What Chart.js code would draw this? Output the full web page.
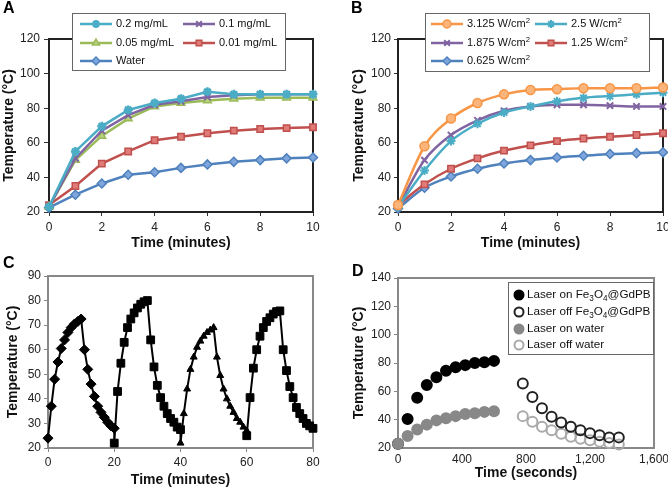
<!DOCTYPE html>
<html>
<head>
<meta charset="utf-8">
<script src="https://cdn.jsdelivr.net/npm/chart.js@4.4.1/dist/chart.umd.min.js"></script>
<style>
  html, body { margin: 0; padding: 0; background: #fff; width: 668px; height: 489px; overflow: hidden; }
  canvas { position: absolute; }
  .tag { position: absolute; font: bold 16px 'Liberation Sans', Arial, sans-serif; line-height: 16px; color: #000; z-index: 2; }
</style>
</head>
<body>
<canvas id="chartA" style="left:0;top:0" width="334" height="252"></canvas>
<canvas id="chartB" style="left:334px;top:0" width="334" height="252"></canvas>
<canvas id="chartC" style="left:0;top:250px" width="334" height="239"></canvas>
<canvas id="chartD" style="left:334px;top:250px" width="334" height="239"></canvas>
<div class="tag" style="left:3px;top:0">A</div>
<div class="tag" style="left:351px;top:0">B</div>
<div class="tag" style="left:3px;top:255px">C</div>
<div class="tag" style="left:352px;top:263px">D</div>
<script>
// ---- panel A: concentration series (minutes) ----
const minutes = [0, 1, 2, 3, 4, 5, 6, 7, 8, 9, 10];
const concLabels = ['0.2 mg/mL', '0.1 mg/mL', '0.05 mg/mL', '0.01 mg/mL', 'Water'];
const a02 = [23, 55, 69.5, 79, 83, 85.5, 89.5, 88, 88, 88, 88];
const a01 = [23, 51, 67, 76, 82, 84, 86.5, 87.5, 88, 88, 88];
const a005 = [23, 50, 64, 74, 81, 83, 84.5, 85.5, 86, 86, 86];
const a001 = [24, 35, 48, 55, 61.5, 63.5, 65.5, 67, 68, 68.5, 69];
const aWater = [22.5, 30, 36.5, 41.5, 43, 45.5, 47.5, 49, 50, 51, 51.5];

// ---- panel B: power density series ----
const powerLabels = ['3.125 W/cm^2', '2.5 W/cm^2', '1.875 W/cm^2', '1.25 W/cm^2', '0.625 W/cm^2'];
const b3125 = [24, 58, 74, 83, 88, 90.5, 91, 91.5, 91.5, 91.5, 92];
const b25 = [23, 44, 61, 71, 77.5, 81, 84, 86, 87, 88, 89];
const b1875 = [23, 50, 64.5, 73, 78.5, 81, 82, 82, 81.5, 81, 81];
const b125 = [24, 36, 45, 51, 55.5, 58.5, 61, 62.5, 63.5, 64.5, 65.5];
const b0625 = [22, 34, 40.5, 45, 48, 50, 51.5, 52.5, 53.5, 54, 54.5];

// ---- panel C: four on/off cycles, one reading per minute ----
const cycleMinutes = [0, 1, 2, 3, 4, 5, 6, 7, 8, 9, 10, 11, 12, 13, 14, 15, 16, 17, 18, 19, 20];
const cycleStart = [0, 20, 40, 60];
const cycle1 = [24, 37, 48, 55, 60.5, 64, 67, 69, 70.5, 71.5, 72.5, 60, 52, 46, 41, 37, 34.5, 32.5, 30.5, 29, 28];
const cycle2 = [22, 43, 54.5, 63, 69, 72.5, 75, 77, 78.5, 79.5, 80, 64, 53, 45.5, 40.5, 37, 34, 32, 30.5, 28.5, 27.5];
const cycle3 = [22, 34, 44, 52, 57, 61, 63.5, 65.5, 67, 68, 69, 57, 49.5, 44, 40, 37, 34.5, 32, 30.5, 28.5, 27];
const cycle4 = [25, 40.5, 52.5, 60, 65.5, 69, 71.5, 73, 74.5, 75.5, 75.8, 60, 51.5, 45, 40.5, 36.5, 34, 32, 30, 29, 28];

// ---- panel D: laser on / off (seconds) ----
const timeOn = [0, 60, 120, 180, 240, 300, 360, 420, 480, 540, 600];
const timeOff = [780, 840, 900, 960, 1020, 1080, 1140, 1200, 1260, 1320, 1380];
const onFe = [23, 40.5, 55.5, 64.5, 70, 74.5, 77, 78.5, 80, 80.5, 81.5];
const onWater = [23, 28.5, 33, 36.5, 39.5, 41, 42.5, 44, 44.5, 45.5, 46];
const offFe = [65.5, 56, 48, 42, 38, 35, 32.5, 30.5, 29, 27.5, 27.5];
const offWater = [42.5, 38.5, 35, 32.5, 30, 28, 26.5, 25.5, 24.5, 23.5, 22.5];
const laserLabels = ['Laser on Fe_3O_4@GdPB', 'Laser off Fe_3O_4@GdPB', 'Laser on water', 'Laser off water'];

const FONT = "'Liberation Sans', Arial, Helvetica, sans-serif";
Chart.defaults.font.family = FONT;
Chart.defaults.font.size = 12;
Chart.defaults.color = '#222';
Chart.defaults.animation = false;

// text with _x subscripts and ^x superscripts
function drawRich(ctx, str, x, y, size) {
  str.split(/([_^].)/).forEach(p => {
    if (!p) return;
    let t = p, fs = size, dy = 0;
    if (p[0] === '_') { t = p[1]; fs = size * 0.7; dy = size * 0.28; }
    else if (p[0] === '^') { t = p[1]; fs = size * 0.7; dy = -size * 0.3; }
    ctx.font = fs + 'px ' + FONT;
    ctx.fillText(t, x, y + dy);
    x += ctx.measureText(t).width;
  });
}

// box around the plot area, under the data
const framePlugin = {
  id: 'frame',
  beforeDatasetsDraw(chart, args, opts) {
    const a = chart.chartArea, ctx = chart.ctx;
    ctx.save();
    ctx.strokeStyle = opts.color || '#333';
    ctx.lineWidth = opts.width || 2;
    ctx.strokeRect(a.left, a.top, a.right - a.left, a.bottom - a.top);
    ctx.restore();
  }
};

// legend drawn as a framed box at a fixed place
const boxLegendPlugin = {
  id: 'boxLegend',
  afterDraw(chart, args, opts) {
    if (!opts.items) return;
    const ctx = chart.ctx;
    ctx.save();
    ctx.fillStyle = '#fff';
    ctx.fillRect(opts.x, opts.y, opts.w, opts.h);
    ctx.strokeStyle = opts.border;
    ctx.lineWidth = 1;
    ctx.strokeRect(opts.x + 0.5, opts.y + 0.5, opts.w, opts.h);
    opts.items.forEach(it => {
      const ds = chart.data.datasets[it.ds];
      let mx = it.x;
      if (opts.lineLen) {
        ctx.strokeStyle = ds.borderColor;
        ctx.lineWidth = ds.borderWidth;
        ctx.beginPath();
        ctx.moveTo(it.x, it.y);
        ctx.lineTo(it.x + opts.lineLen, it.y);
        ctx.stroke();
        mx = it.x + opts.lineLen / 2;
      }
      ctx.fillStyle = ds.pointBackgroundColor;
      ctx.strokeStyle = ds.pointBorderColor;
      ctx.lineWidth = ds.pointBorderWidth;
      Chart.helpers.drawPoint(ctx, { pointStyle: ds.pointStyle, rotation: 0, radius: ds.pointRadius - 0.5, borderWidth: ds.pointBorderWidth }, mx, it.y);
      ctx.fillStyle = '#111';
      ctx.textBaseline = 'middle';
      ctx.textAlign = 'left';
      const tx = (opts.lineLen ? it.x + opts.lineLen : mx + ds.pointRadius) + opts.gap;
      drawRich(ctx, ds.label, tx, it.y, opts.fontSize);
    });
    ctx.restore();
  }
};
Chart.register(framePlugin, boxLegendPlugin);

function axis(o) {
  return {
    type: 'linear', min: o.min, max: o.max,
    ticks: { stepSize: o.step, padding: o.pad, color: '#222', font: { size: 12 }, maxRotation: 0, autoSkip: false,
             callback: v => v.toLocaleString('en-US') },
    grid: { drawOnChartArea: false, drawTicks: o.tick > 0, tickLength: o.tick, color: o.color, lineWidth: 1 },
    border: { display: false },
    title: { display: true, text: o.title, color: '#111', font: { size: 14, weight: 'bold' }, padding: o.titlePad },
    afterFit: s => {
      if (s.isHorizontal()) s.height = o.size; else s.width = o.size;
      s.paddingLeft = s.paddingRight = s.paddingTop = s.paddingBottom = 0;
    }
  };
}

function series(label, data, color, style, fill, extra) {
  return Object.assign({
    label, data: data.map((y, i) => ({ x: minutes[i], y })),
    borderColor: color, borderWidth: 2.5, pointStyle: style, pointRadius: 4.5,
    pointBackgroundColor: fill, pointBorderColor: color, pointBorderWidth: 1.5, clip: false
  }, extra || {});
}

const baseOpts = (pad, legend, frame) => ({
  responsive: false,
  layout: { padding: pad, autoPadding: false },
  plugins: { legend: { display: false }, tooltip: { enabled: false }, frame, boxLegend: legend }
});

// ---- A ----
const optsA = baseOpts({ left: 0, top: 39, right: 21, bottom: 0 },
  { x: 72, y: 13, w: 213, h: 57, border: '#666', lineLen: 32, gap: 4, fontSize: 11,
    items: [{ ds: 0, x: 80, y: 24 }, { ds: 1, x: 183, y: 24 }, { ds: 2, x: 80, y: 43 }, { ds: 3, x: 183, y: 43 }, { ds: 4, x: 80, y: 61 }] },
  { color: '#222', width: 2 });
optsA.scales = {
  x: axis({ min: 0, max: 10, step: 2, pad: 4, tick: 4, color: '#333', title: 'Time (minutes)', titlePad: { top: 0, bottom: 0 }, size: 40 }),
  y: axis({ min: 20, max: 120, step: 20, pad: 4, tick: 5, color: '#333', title: 'Temperature (°C)', titlePad: { top: 1, bottom: 0 }, size: 49 })
};
new Chart(document.getElementById('chartA'), {
  type: 'line',
  data: { datasets: [
    series(concLabels[0], a02, '#4BACC6', 'star', '#4BACC6', { pointBorderWidth: 2.5 }),
    series(concLabels[1], a01, '#8064A2', 'crossRot', '#8064A2', { pointBorderWidth: 2 }),
    series(concLabels[2], a005, '#9BBB59', 'triangle', '#b6d27c'),
    series(concLabels[3], a001, '#C0504D', 'rect', '#e07b78'),
    series(concLabels[4], aWater, '#4F81BD', 'rectRot', '#7ea6dc')
  ] },
  options: optsA
});

// ---- B ----
const optsB = baseOpts({ left: 0, top: 39, right: 5, bottom: 0 },
  { x: 91, y: 13, w: 224, h: 58, border: '#666', lineLen: 32, gap: 4, fontSize: 11,
    items: [{ ds: 0, x: 97, y: 24 }, { ds: 1, x: 201, y: 24 }, { ds: 2, x: 97, y: 43 }, { ds: 3, x: 201, y: 43 }, { ds: 4, x: 97, y: 61 }] },
  { color: '#222', width: 2 });
optsB.scales = {
  x: axis({ min: 0, max: 10, step: 2, pad: 4, tick: 4, color: '#333', title: 'Time (minutes)', titlePad: { top: 0, bottom: 0 }, size: 40 }),
  y: axis({ min: 20, max: 120, step: 20, pad: 3, tick: 4, color: '#333', title: 'Temperature (°C)', titlePad: { top: 17, bottom: 0 }, size: 64 })
};
const curve = { cubicInterpolationMode: 'monotone' };
new Chart(document.getElementById('chartB'), {
  type: 'line',
  data: { datasets: [
    series(powerLabels[0], b3125, '#F79646', 'circle', '#fbb57a', curve),
    series(powerLabels[1], b25, '#4BACC6', 'star', '#4BACC6', Object.assign({ pointBorderWidth: 2 }, curve)),
    series(powerLabels[2], b1875, '#8064A2', 'crossRot', '#8064A2', Object.assign({ pointBorderWidth: 2 }, curve)),
    series(powerLabels[3], b125, '#C0504D', 'rect', '#e07b78', curve),
    series(powerLabels[4], b0625, '#4F81BD', 'rectRot', '#7ea6dc', curve)
  ] },
  options: optsB
});

// ---- C ----
const cycles = [cycle1, cycle2, cycle3, cycle4];
const cycleStyle = ['rectRot', 'rect', 'triangle', 'rect'];
const cPoints = [], cStyles = [], cRadii = [];
cycles.forEach((temps, k) => {
  temps.forEach((y, i) => {
    cPoints.push({ x: cycleStart[k] + cycleMinutes[i], y });
    cStyles.push(cycleStyle[k]);
    cRadii.push(cycleStyle[k] === 'triangle' ? 4 : cycleStyle[k] === 'rect' ? 5.5 : 5);
  });
});
const optsC = baseOpts({ left: 0, top: 26, right: 21, bottom: 0 }, {}, { color: '#888', width: 2 });
optsC.scales = {
  x: axis({ min: 0, max: 80, step: 20, pad: 3, tick: 4, color: '#888', title: 'Time (minutes)', titlePad: { top: 0, bottom: 0 }, size: 41 }),
  y: axis({ min: 20, max: 90, step: 10, pad: 3, tick: 4, color: '#888', title: 'Temperature (°C)', titlePad: { top: 5, bottom: 0 }, size: 48 })
};
new Chart(document.getElementById('chartC'), {
  type: 'line',
  data: { datasets: [{
    label: 'Cycles', data: cPoints, borderColor: '#000', borderWidth: 2,
    pointStyle: cStyles, pointRadius: cRadii, pointBackgroundColor: '#000', pointBorderColor: '#000',
    pointBorderWidth: 1, clip: false
  }] },
  options: optsC
});

// ---- D ----
const dots = (label, times, temps, fill, stroke, order) => ({
  label, data: temps.map((y, i) => ({ x: times[i], y })), showLine: false,
  pointStyle: 'circle', pointRadius: 5, pointBackgroundColor: fill, pointBorderColor: stroke,
  pointBorderWidth: 2, borderColor: stroke, borderWidth: 0, clip: false, order
});
const optsD = baseOpts({ left: 0, top: 28, right: 14, bottom: 0 },
  { x: 174, y: 32, w: 145, h: 72, border: '#666', lineLen: 0, gap: 3, fontSize: 11.7,
    items: [{ ds: 0, x: 185, y: 45 }, { ds: 1, x: 185, y: 62 }, { ds: 2, x: 185, y: 79 }, { ds: 3, x: 185, y: 95 }] },
  { color: '#888', width: 2 });
optsD.scales = {
  x: axis({ min: 0, max: 1600, step: 400, pad: 4, tick: 0, color: '#888', title: 'Time (seconds)', titlePad: { top: 0, bottom: 7 }, size: 41 }),
  y: axis({ min: 20, max: 140, step: 20, pad: 3, tick: 4, color: '#888', title: 'Temperature (°C)', titlePad: { top: 17, bottom: 0 }, size: 64 })
};
new Chart(document.getElementById('chartD'), {
  type: 'scatter',
  data: { datasets: [
    dots(laserLabels[0], timeOn, onFe, '#000', '#000', 1),
    dots(laserLabels[1], timeOff, offFe, 'rgba(255,255,255,0)', '#222', 0),
    dots(laserLabels[2], timeOn, onWater, '#888', '#888', 0),
    dots(laserLabels[3], timeOff, offWater, 'rgba(255,255,255,0)', '#aaa', 1)
  ] },
  options: optsD
});
</script>
</body>
</html>
